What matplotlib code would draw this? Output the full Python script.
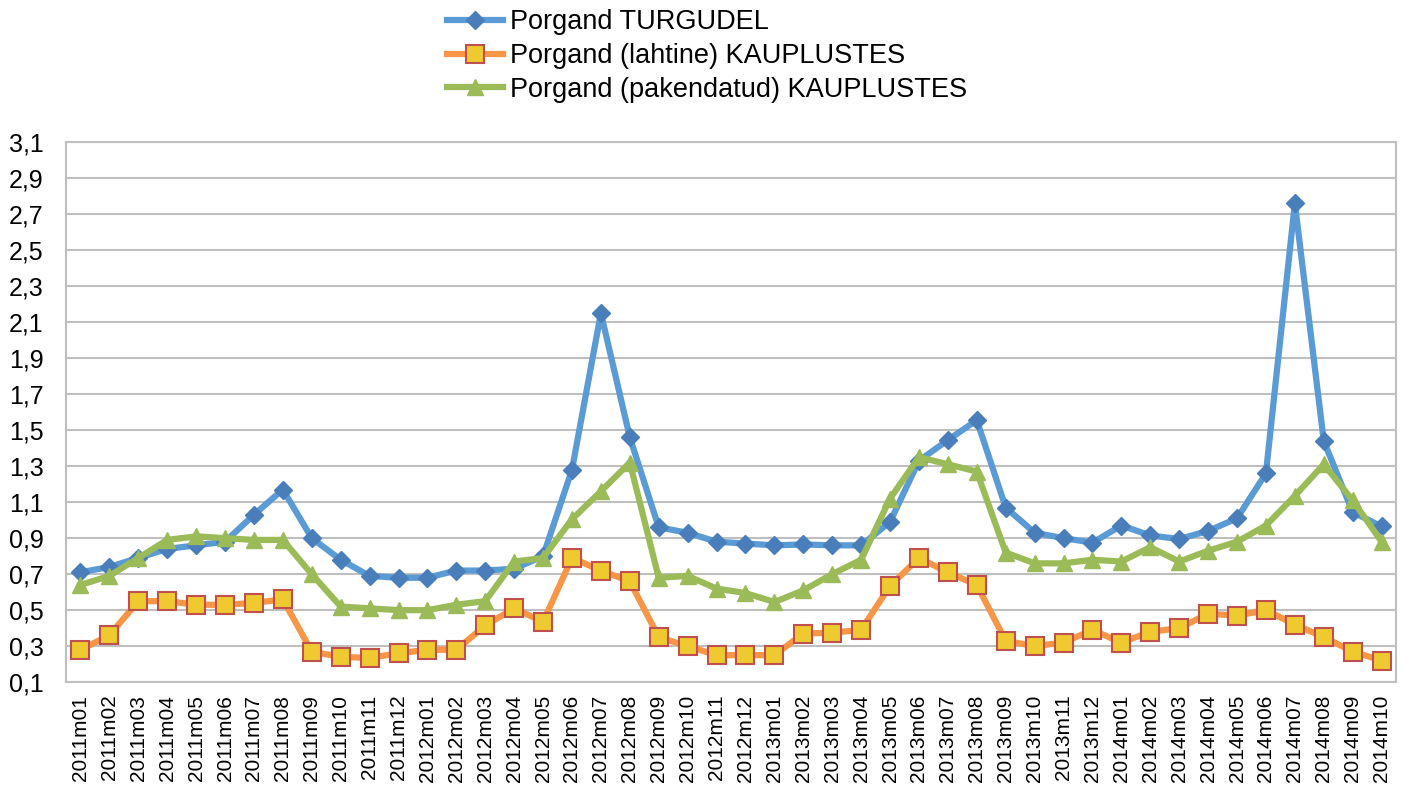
import numpy as np
import matplotlib.pyplot as plt
from matplotlib.ticker import FuncFormatter

plt.rcParams['font.family'] = ['Liberation Sans', 'DejaVu Sans']

# Kuud (kategooriad)
kuud = ['2011m%02d' % m for m in range(1, 13)] + \
       ['2012m%02d' % m for m in range(1, 13)] + \
       ['2013m%02d' % m for m in range(1, 13)] + \
       ['2014m%02d' % m for m in range(1, 11)]

turgudel = [0.71, 0.74, 0.79, 0.84, 0.86, 0.88, 1.03, 1.17, 0.90, 0.78, 0.69, 0.68,
            0.68, 0.72, 0.72, 0.73, 0.80, 1.28, 2.15, 1.46, 0.96, 0.93, 0.88, 0.87,
            0.86, 0.865, 0.86, 0.86, 0.99, 1.33, 1.445, 1.555, 1.07, 0.93, 0.90, 0.875,
            0.97, 0.915, 0.895, 0.94, 1.01, 1.26, 2.76, 1.44, 1.045, 0.965]

lahtine = [0.28, 0.36, 0.55, 0.55, 0.53, 0.53, 0.54, 0.56, 0.27, 0.24, 0.235, 0.26,
           0.28, 0.28, 0.415, 0.51, 0.435, 0.79, 0.72, 0.66, 0.35, 0.30, 0.25, 0.25,
           0.25, 0.37, 0.375, 0.39, 0.635, 0.79, 0.71, 0.64, 0.33, 0.30, 0.32, 0.39,
           0.32, 0.38, 0.40, 0.48, 0.47, 0.50, 0.42, 0.35, 0.27, 0.22]

pakendatud = [0.64, 0.69, 0.79, 0.89, 0.91, 0.90, 0.89, 0.89, 0.70, 0.52, 0.51, 0.50,
              0.50, 0.53, 0.55, 0.77, 0.79, 1.005, 1.16, 1.32, 0.68, 0.69, 0.62, 0.595,
              0.545, 0.61, 0.70, 0.78, 1.12, 1.35, 1.31, 1.27, 0.82, 0.76, 0.76, 0.78,
              0.77, 0.85, 0.77, 0.83, 0.88, 0.97, 1.135, 1.31, 1.11, 0.88]

x = np.arange(len(kuud))

fig = plt.figure(figsize=(14.13, 7.85), dpi=100)
ax = fig.add_axes([0.0467, 0.131, 0.9413, 0.688])

ax.plot(x, turgudel, color='#5B9BD5', lw=4.5, marker='D', ms=9,
        mfc='#4A7EBB', mec='#4A7EBB', label='Porgand TURGUDEL', zorder=3)
ax.plot(x, lahtine, color='#F79646', lw=4.5, marker='s', ms=13,
        mfc='#EEC930', mec='#C0504D', mew=1.5, label='Porgand (lahtine) KAUPLUSTES', zorder=3)
ax.plot(x, pakendatud, color='#9BBB59', lw=4.5, marker='^', ms=12,
        mfc='#9BBB59', mec='#9BBB59', label='Porgand (pakendatud) KAUPLUSTES', zorder=3)

ax.set_xlim(-0.5, len(kuud) - 0.5)
ax.set_ylim(0.1, 3.1)
ax.set_yticks(np.arange(0.1, 3.11, 0.2))
ax.yaxis.set_major_formatter(FuncFormatter(lambda v, p: ('%.1f' % v).replace('.', ',')))
ax.set_xticks(x)
ax.set_xticklabels(kuud, rotation=90, va='top', ha='center')
ax.tick_params(axis='y', length=0, pad=16, labelsize=18)
ax.tick_params(axis='x', length=0, pad=9, labelsize=15)

ax.grid(axis='y', color='#BFBFBF', lw=1.5)
ax.set_axisbelow(True)
for s in ax.spines.values():
    s.set_color('#BFBFBF')
    s.set_linewidth(1.5)

fig.legend(loc='upper left', bbox_to_anchor=(0.316, 0.988), frameon=False,
           fontsize=19.5, handlelength=2.1, handletextpad=0.25, labelspacing=0.28,
           borderpad=0, borderaxespad=0)

plt.savefig('out.png', dpi=100)
